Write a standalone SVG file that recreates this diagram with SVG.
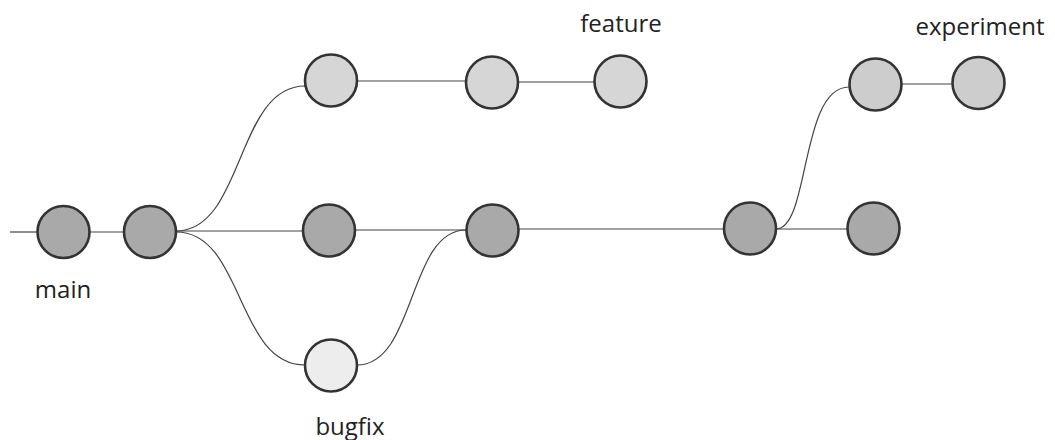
<svg xmlns="http://www.w3.org/2000/svg" width="1055" height="440" viewBox="0 0 1055 440">
<style>
.c{stroke:#333;stroke-width:2.6}
.m{fill:#a9a9a9}
.f{fill:#d6d6d6}
.e{fill:#cdcdcd}
.b{fill:#ededed}
.l{fill:none;stroke:#444;stroke-width:1.2}
.t{font-family:"Open Sans","Noto Sans",sans-serif;font-size:24px;fill:#222;text-anchor:middle}
</style>
<rect width="1055" height="440" fill="#fff"/>
<g id="connectors">
<path class="l" d="M10 232H38"/>
<path class="l" d="M90 232H124"/>
<path class="l" d="M176 231H303"/>
<path class="l" d="M355 230H466"/>
<path class="l" d="M519 229H724"/>
<path class="l" d="M776 229H847"/>
<path class="l" d="M357 81H466"/>
<path class="l" d="M518 82H594"/>
<path class="l" d="M902 84H952"/>
<path class="l" d="M176 231C244 231 236 86 305 86"/>
<path class="l" d="M176 232C244 232 236 365 305 365"/>
<path class="l" d="M357 365C416 365 408 230 466 230"/>
<path class="l" d="M776 229C810 229 800 87 849 87"/>
</g>
<g id="n-main1"><circle class="c m" cx="63.5" cy="232" r="26"/></g>
<g id="n-main2"><circle class="c m" cx="150" cy="232" r="26"/></g>
<g id="n-main3"><circle class="c m" cx="329" cy="230.5" r="26"/></g>
<g id="n-main4"><circle class="c m" cx="492.5" cy="230.5" r="26"/></g>
<g id="n-main5"><circle class="c m" cx="750" cy="228.5" r="26"/></g>
<g id="n-main6"><circle class="c m" cx="873.5" cy="228.5" r="26"/></g>
<g id="n-feat1"><circle class="c f" cx="331" cy="80.5" r="26"/></g>
<g id="n-feat2"><circle class="c f" cx="492" cy="82.5" r="26"/></g>
<g id="n-feat3"><circle class="c f" cx="620.5" cy="81.5" r="26"/></g>
<g id="n-exp1"><circle class="c e" cx="875.5" cy="84.5" r="26"/></g>
<g id="n-exp2"><circle class="c e" cx="978.5" cy="83" r="26"/></g>
<g id="n-bug1"><circle class="c b" cx="331" cy="365.5" r="26"/></g>
<g id="labels">
<text class="t" x="63" y="298">main</text>
<text class="t" x="621" y="32">feature</text>
<text class="t" x="980" y="35">experiment</text>
<text class="t" x="350" y="435">bugfix</text>
</g>
</svg>
